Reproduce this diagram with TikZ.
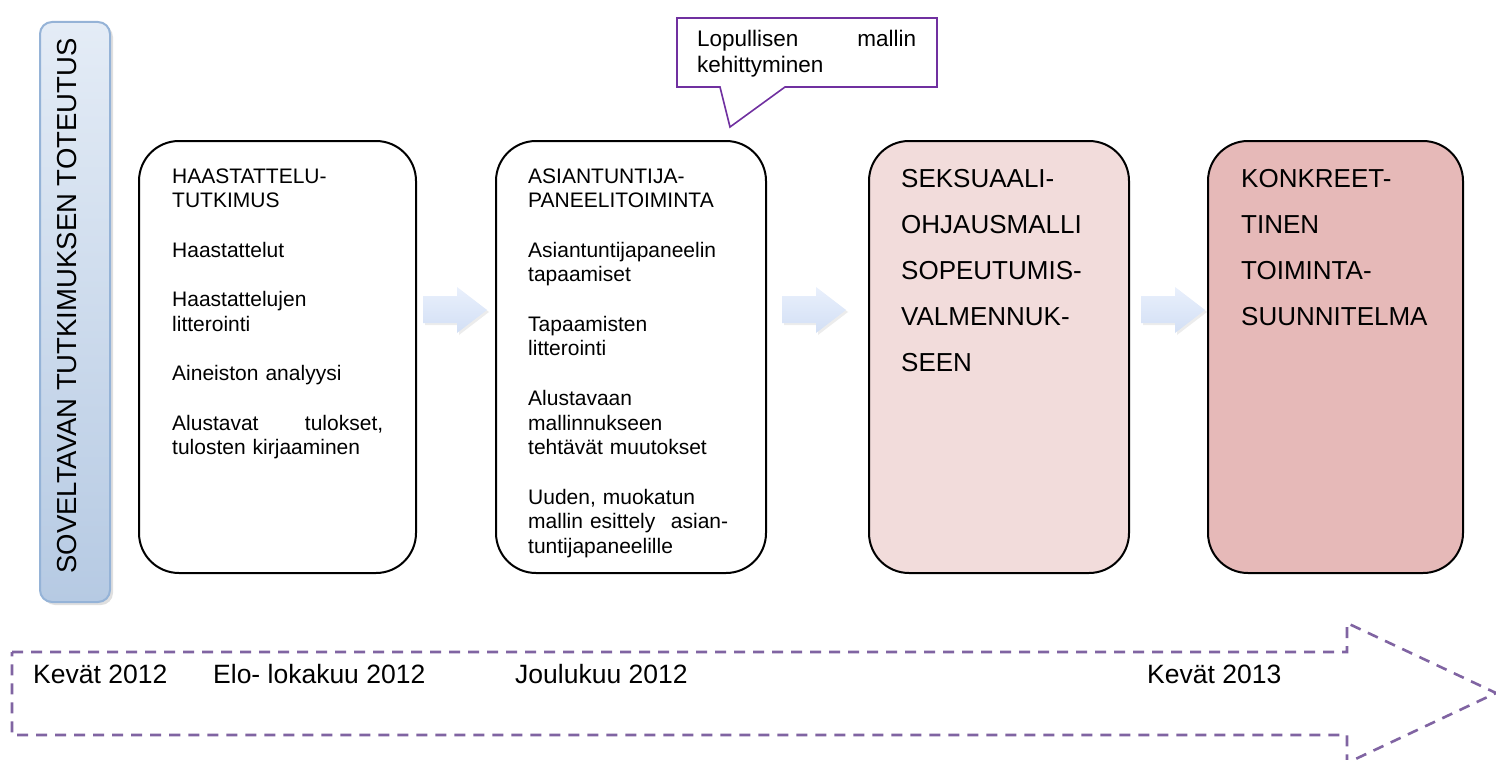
\documentclass[tikz,border=0pt]{standalone}
\usepackage{fontspec}
\setmainfont{Liberation Sans}
\usetikzlibrary{shadows}
\definecolor{barfill1}{HTML}{E4ECF6}
\definecolor{barfill2}{HTML}{B6CAE3}
\definecolor{bardraw}{HTML}{95B3D7}
\definecolor{pinkA}{HTML}{F2DCDB}
\definecolor{pinkB}{HTML}{E6B9B8}
\definecolor{arrowA}{HTML}{E9F0FC}
\definecolor{arrowB}{HTML}{D2DFF5}
\definecolor{callpurple}{HTML}{7030A0}
\definecolor{timepurple}{HTML}{8064A2}
\tikzset{
  stagebox/.style={draw=black, line width=2pt, rounded corners=40pt, inner sep=0pt},
  boxtext/.style={anchor=base west, inner sep=0pt, align=left, font=\fontsize{21}{24.7}\selectfont},
  bigtext/.style={anchor=base west, inner sep=0pt, align=left, font=\fontsize{26}{46}\selectfont},
  timetext/.style={anchor=base west, inner sep=0pt, font=\fontsize{26.5}{30}\selectfont},
  blockarrow/.style={top color=arrowA, bottom color=arrowB, draw=none,
     drop shadow={shadow xshift=2pt, shadow yshift=-2pt, opacity=0.15}},
}
\begin{document}
\begin{tikzpicture}[x=1pt,y=-1pt]
\useasboundingbox (0,0) rectangle (1496,760);
% left vertical bar
\node[draw=bardraw, line width=2pt, rounded corners=12pt, top color=barfill1, bottom color=barfill2,
      minimum width=70pt, minimum height=580pt, inner sep=0pt,
      drop shadow={shadow xshift=3pt, shadow yshift=-3pt, opacity=0.25}] (bar) at (75,312) {};
\node[rotate=90, inner sep=0pt, font=\fontsize{27.5}{30}\selectfont] (bartext) at (67,306) {SOVELTAVAN TUTKIMUKSEN TOTEUTUS};
% stage boxes
\node[stagebox, fill=white, minimum width=277pt, minimum height=432pt] (b1) at (277.5,357) {};
\node[stagebox, fill=white, minimum width=270pt, minimum height=432pt] (b2) at (631,357) {};
\node[stagebox, fill=pinkA, minimum width=260pt, minimum height=432pt] (b3) at (999,357) {};
\node[stagebox, fill=pinkB, minimum width=255pt, minimum height=432pt] (b4) at (1335.5,357) {};
% texts
\node[boxtext, text width=211pt] (t1) at (172,183) {HAASTATTELU-\\TUTKIMUS\\[24.7pt]Haastattelut\\[24.7pt]Haastattelujen\\litterointi\\[24.7pt]Aineiston analyysi\\[24.7pt]Alustavat\hfill tulokset,\\tulosten kirjaaminen};
\node[boxtext, text width=200pt] (t2) at (528,183) {ASIANTUNTIJA-\\PANEELITOIMINTA\\[24.7pt]Asiantuntijapaneelin\\tapaamiset\\[24.7pt]Tapaamisten\\litterointi\\[24.7pt]Alustavaan\\mallinnukseen\\tehtävät muutokset\\[24.7pt]Uuden, muokatun\\mallin esittely\hfill asian-\\tuntijapaneelille};
\node[bigtext, text width=200pt] (t3) at (901,187) {SEKSUAALI-\\OHJAUSMALLI\\SOPEUTUMIS-\\VALMENNUK-\\SEEN};
\node[bigtext, text width=200pt] (t4) at (1241,187) {KONKREET-\\TINEN\\TOIMINTA-\\SUUNNITELMA};
% block arrows
\foreach \x/\n in {423/a1, 782/a2, 1141/a3}{
  \path[blockarrow] (\x,296) -- ++(34,0) -- ++(0,-9) -- ++(30,23) -- ++(-30,23) -- ++(0,-10) -- ++(-34,0) -- cycle;
}
% callout
\draw[callpurple, line width=1.6pt, fill=white] (677,18) -- (937,18) -- (937,87) -- (785,87) -- (730,127) -- (720,87) -- (677,87) -- cycle;
\node[anchor=base west, inner sep=0pt, text width=219pt, align=left, font=\fontsize{22.5}{26}\selectfont] (call) at (697,47) {Lopullisen\hfill mallin\\kehittyminen};
% timeline arrow
\draw[timepurple, line width=2.6pt, dash pattern=on 11pt off 8pt] (12,652) -- (1347,652) -- (1347,623) -- (1496,693) -- (1347,763) -- (1347,735) -- (12,735) -- cycle;
\node[timetext] (k12) at (33,683) {Kevät 2012};
\node[timetext] (el12) at (213,683) {Elo- lokakuu 2012};
\node[timetext] (jo12) at (515,683) {Joulukuu 2012};
\node[timetext] (k13) at (1147,683) {Kevät 2013};
\end{tikzpicture}
\end{document}
